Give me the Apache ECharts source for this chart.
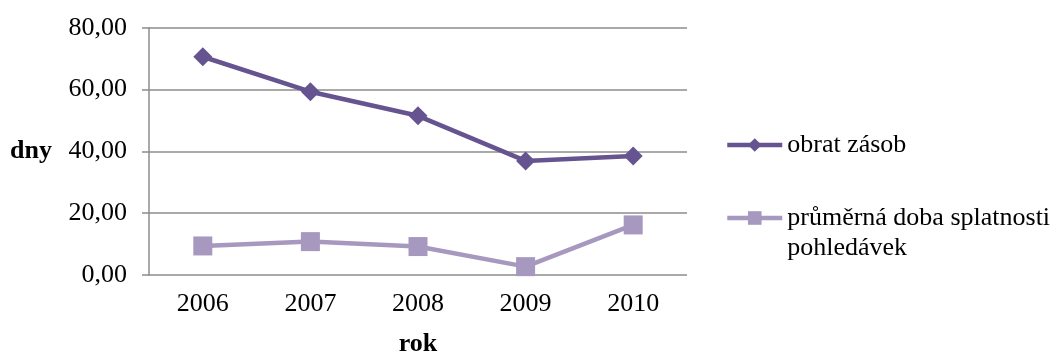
<!DOCTYPE html>
<html><head><meta charset="utf-8">
<script src="https://cdn.jsdelivr.net/npm/echarts@6/dist/echarts.min.js"></script>
<style>html,body{margin:0;padding:0;background:#fff}#c{width:1056px;height:354px}</style>
</head><body><div id="c"></div>
<script>
const categories = ['2006', '2007', '2008', '2009', '2010'];
const obratZasob = [70.6, 59.3, 51.5, 36.9, 38.5];
const dobaSplatnosti = [9.4, 10.8, 9.2, 2.7, 16.2];
const seriesNames = ['obrat zásob', 'průměrná doba splatnosti\npohledávek'];
const yAxisName = 'dny';
const xAxisName = 'rok';

const FONT = '"Liberation Serif", "Times New Roman", serif';
const DARK = '#665490';
const LIGHT = '#a798bf';
const chart = echarts.init(document.getElementById('c'));
chart.setOption({
  animation: false,
  backgroundColor: '#fff',
  textStyle: { fontFamily: FONT },
  grid: { left: 149, right: 369, top: 27.7, bottom: 79, containLabel: false, outerBoundsMode: 'none' },
  legend: [
    {
      data: [seriesNames[0]], left: 725, top: 130, padding: 0,
      itemWidth: 55, itemHeight: 17, itemGap: 0,
      lineStyle: { width: 4.5 },
      textStyle: { fontFamily: FONT, fontSize: 26, color: '#000', lineHeight: 30 }
    },
    {
      data: [seriesNames[1]], left: 725, top: 173, padding: 0,
      itemWidth: 55, itemHeight: 17, itemGap: 0,
      lineStyle: { width: 4.5 },
      formatter: name => ' \n' + name,
      textStyle: { fontFamily: FONT, fontSize: 26, color: '#000', lineHeight: 30 }
    }
  ],
  xAxis: {
    type: 'category', data: categories, boundaryGap: true,
    name: xAxisName, nameLocation: 'middle', nameGap: 56,
    nameTextStyle: { fontFamily: FONT, fontSize: 26, fontWeight: 'bold', color: '#000' },
    axisLine: { show: false },
    axisTick: { show: false },
    axisLabel: { fontFamily: FONT, fontSize: 26, color: '#000', margin: 16 }
  },
  yAxis: {
    type: 'value', min: 0, max: 80, interval: 20,
    name: yAxisName, nameLocation: 'middle', nameGap: 97, nameRotate: 0,
    nameTextStyle: { fontFamily: FONT, fontSize: 26, fontWeight: 'bold', color: '#000' },
    axisLine: { show: true, lineStyle: { color: '#8c8c8c', width: 1.5 } },
    axisTick: { show: true, inside: false, length: 7, lineStyle: { color: '#8c8c8c', width: 1.5 } },
    axisLabel: { fontFamily: FONT, fontSize: 26, color: '#000', margin: 22,
      formatter: v => v.toFixed(2).replace('.', ',') },
    splitLine: { show: true, lineStyle: { color: '#8c8c8c', width: 1.5 } }
  },
  series: [
    {
      name: seriesNames[0], type: 'line', data: obratZasob,
      symbol: 'diamond', symbolSize: 19,
      lineStyle: { color: DARK, width: 4.5 },
      itemStyle: { color: DARK }
    },
    {
      name: seriesNames[1], type: 'line', data: dobaSplatnosti,
      symbol: 'rect', symbolSize: 19,
      lineStyle: { color: LIGHT, width: 4.5 },
      itemStyle: { color: LIGHT }
    }
  ]
});
</script></body></html>
